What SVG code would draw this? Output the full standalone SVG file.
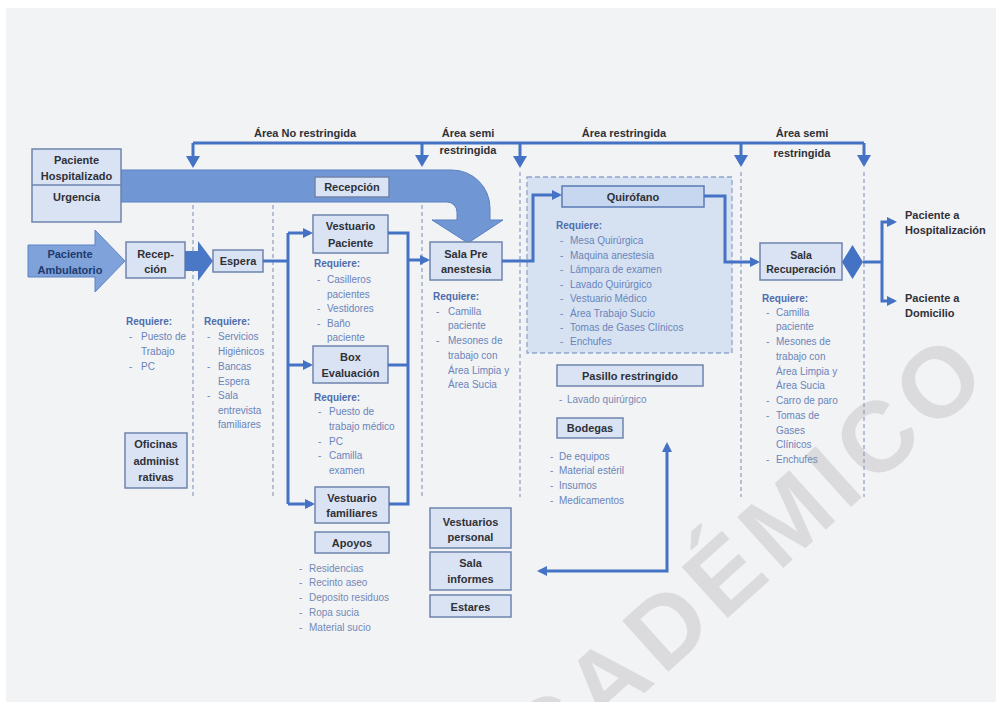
<svg xmlns="http://www.w3.org/2000/svg" width="996" height="702" viewBox="0 0 996 702">
  <defs>
    <style>
      text { font-family: "Liberation Sans", Arial, sans-serif; }
      .box { fill: #dae3f3; stroke: #6f84ad; stroke-width: 1.5; }
      .boxd { fill: #c6d7ef; stroke: #5b7bb5; stroke-width: 1.5; }
      .t { font-weight: bold; font-size: 11px; fill: #2f3137; text-anchor: middle; }
      .ts { font-weight: bold; font-size: 10.5px; fill: #2f3137; text-anchor: middle; }
      .hd { font-weight: bold; font-size: 11px; fill: #2f3137; text-anchor: middle; }
      .out { font-weight: bold; font-size: 11px; fill: #2f3137; }
      .req { font-weight: bold; font-size: 10px; fill: #4d6dad; }
      .li { font-size: 10px; fill: #6a84ba; }
      .lg { font-size: 10px; fill: #7489b6; }
      .conn { fill: none; stroke: #4472c4; stroke-width: 3; }
      .dash { fill: none; stroke: #8c9dc2; stroke-width: 1.2; stroke-dasharray: 4 3; }
      .wm { font-family: "Liberation Sans", Arial, sans-serif; font-weight: bold; font-size: 100px; fill: #9e9e9e; opacity: 0.27; letter-spacing: 8px; }
    </style>
    <marker id="ah" markerUnits="userSpaceOnUse" markerWidth="10" markerHeight="10" refX="7" refY="5" orient="auto-start-reverse">
      <path d="M0,0 L10,5 L0,10 Z" fill="#4472c4"/>
    </marker>
    <marker id="ahb" markerUnits="userSpaceOnUse" markerWidth="12" markerHeight="14" refX="9" refY="7" orient="auto-start-reverse">
      <path d="M0,0 L12,7 L0,14 Z" fill="#4472c4"/>
    </marker>
  </defs>

  <!-- page -->
  <rect x="0" y="0" width="996" height="702" fill="#ffffff"/>
  <rect x="6" y="8" width="990" height="694" fill="#f2f3f5"/>

  <!-- zone separators -->
  <g id="zones">
    <line class="dash" x1="193" y1="205" x2="193" y2="497"/>
    <line class="dash" x1="273" y1="205" x2="273" y2="497"/>
    <line class="dash" x1="422" y1="205" x2="422" y2="497"/>
    <line class="dash" x1="520" y1="172" x2="520" y2="497"/>
    <line class="dash" x1="741" y1="172" x2="741" y2="497"/>
    <line class="dash" x1="864" y1="172" x2="864" y2="497"/>
  </g>

  <!-- zone headings -->
  <g id="headings">
    <text class="hd" x="305" y="137">Área No restringida</text>
    <text class="hd" x="468" y="137">Área semi</text>
    <text class="hd" x="468" y="154">restringida</text>
    <text class="hd" x="624" y="137">Área restringida</text>
    <text class="hd" x="802" y="137">Área semi</text>
    <text class="hd" x="802" y="157">restringida</text>
  </g>

  <!-- quirofano block (dashed container) -->
  <g id="bloque-quirofano">
    <rect x="527" y="177" width="205" height="176" fill="#d6e2f2" stroke="#8ea6cc" stroke-width="1.3" stroke-dasharray="5 3"/>
  </g>

  <!-- wide intake band -->
  <g id="banda-ingreso">
    <path d="M121,170 H452 A38,38 0 0 1 490,208 V220 H503 L468,243 L432,220 H457 V212 A10,10 0 0 0 447,202 H121 Z" fill="#7097d3" stroke="#5a81c2" stroke-width="1"/>
  </g>

  <g id="paciente-hospitalizado">
    <rect class="box" x="32" y="149" width="89" height="73"/>
    <line x1="32" y1="185" x2="121" y2="185" stroke="#6f84ad" stroke-width="1.5"/>
    <text class="t" x="76.5" y="164">Paciente</text>
    <text class="t" x="76.5" y="180">Hospitalizado</text>
    <text class="t" x="76.5" y="201">Urgencia</text>
  </g>

  <g id="recepcion-central">
    <rect class="box" x="315" y="177" width="74" height="20"/>
    <text class="t" x="352" y="191">Recepción</text>
  </g>

  <g id="paciente-ambulatorio">
    <path d="M28,245 H95 V230 L125,261 L95,292 V277 H28 Z" fill="#7ea2d9" stroke="#5d84c6" stroke-width="1"/>
    <text class="t" x="70" y="258" style="fill:#1f3a6e">Paciente</text>
    <text class="t" x="70" y="274" style="fill:#1f3a6e">Ambulatorio</text>
  </g>

  <g id="recepcion">
    <rect class="box" x="126" y="242" width="59" height="36"/>
    <text class="t" x="155.5" y="258">Recep-</text>
    <text class="t" x="155.5" y="273">ción</text>
  </g>

  <g id="flecha-recepcion-espera">
    <path d="M185,251 H198 V241 L213,261 L198,281 V271 H185 Z" fill="#4a78c6"/>
  </g>

  <g id="espera">
    <rect class="box" x="213" y="250" width="50" height="22"/>
    <text class="t" x="238" y="265">Espera</text>
  </g>

  <g id="vestuario-paciente">
    <rect class="box" x="313" y="215" width="75" height="38"/>
    <text class="t" x="350.5" y="230">Vestuario</text>
    <text class="t" x="350.5" y="247">Paciente</text>
  </g>

  <g id="box-evaluacion">
    <rect class="box" x="313" y="346" width="75" height="37"/>
    <text class="t" x="350.5" y="361">Box</text>
    <text class="t" x="350.5" y="377">Evaluación</text>
  </g>

  <g id="vestuario-familiares">
    <rect class="box" x="315" y="487" width="74" height="36"/>
    <text class="t" x="352" y="502">Vestuario</text>
    <text class="t" x="352" y="517">familiares</text>
  </g>

  <g id="apoyos">
    <rect class="box" x="315" y="532" width="74" height="21"/>
    <text class="t" x="352" y="547">Apoyos</text>
  </g>

  <g id="oficinas">
    <rect class="box" x="125" y="433" width="62" height="55"/>
    <text class="t" x="156" y="448">Oficinas</text>
    <text class="t" x="156" y="465">administ</text>
    <text class="t" x="156" y="481">rativas</text>
  </g>

  <g id="sala-pre-anestesia">
    <rect class="box" x="430" y="242" width="72" height="38"/>
    <text class="t" x="466" y="258">Sala Pre</text>
    <text class="t" x="466" y="273">anestesia</text>
  </g>

  <g id="vestuarios-personal">
    <rect class="box" x="430" y="508" width="81" height="40"/>
    <text class="t" x="470.5" y="526">Vestuarios</text>
    <text class="t" x="470.5" y="541">personal</text>
  </g>

  <g id="sala-informes">
    <rect class="box" x="430" y="552" width="81" height="38"/>
    <text class="t" x="470.5" y="567">Sala</text>
    <text class="t" x="470.5" y="583">informes</text>
  </g>

  <g id="estares">
    <rect class="box" x="430" y="595" width="81" height="22"/>
    <text class="t" x="470.5" y="611">Estares</text>
  </g>

  <g id="quirofano">
    <rect class="boxd" x="562" y="186" width="142" height="21"/>
    <text class="t" x="633" y="201">Quirófano</text>
  </g>

  <g id="pasillo-restringido">
    <rect class="box" x="557" y="365" width="146" height="21"/>
    <text class="t" x="630" y="380">Pasillo restringido</text>
  </g>

  <g id="bodegas">
    <rect class="box" x="557" y="418" width="66" height="20"/>
    <text class="t" x="590" y="432">Bodegas</text>
  </g>

  <g id="sala-recuperacion">
    <rect class="box" x="760" y="243" width="82" height="37"/>
    <text class="ts" x="801" y="259">Sala</text>
    <text class="ts" x="801" y="273">Recuperación</text>
  </g>

  <g id="salida-hospitalizacion">
    <text class="out" x="905" y="219">Paciente a</text>
    <text class="out" x="905" y="234">Hospitalización</text>
  </g>
  <g id="salida-domicilio">
    <text class="out" x="905" y="302">Paciente a</text>
    <text class="out" x="905" y="317">Domicilio</text>
  </g>

  <!-- requirement lists -->
  <g id="lista-recepcion">
    <text class="req" x="126" y="325">Requiere:</text>
    <text class="li" x="129" y="340">-</text><text class="li" x="141" y="340">Puesto de</text>
    <text class="li" x="141" y="355">Trabajo</text>
    <text class="li" x="129" y="370">-</text><text class="li" x="141" y="370">PC</text>
  </g>

  <g id="lista-espera">
    <text class="req" x="204" y="325">Requiere:</text>
    <text class="li" x="207" y="340">-</text><text class="li" x="218" y="340">Servicios</text>
    <text class="li" x="218" y="355">Higiénicos</text>
    <text class="li" x="207" y="370">-</text><text class="li" x="218" y="370">Bancas</text>
    <text class="li" x="218" y="385">Espera</text>
    <text class="li" x="207" y="399">-</text><text class="li" x="218" y="399">Sala</text>
    <text class="li" x="218" y="414">entrevista</text>
    <text class="li" x="218" y="428">familiares</text>
  </g>

  <g id="lista-vestuario-paciente">
    <text class="req" x="314" y="267">Requiere:</text>
    <text class="li" x="317" y="283">-</text><text class="li" x="327" y="283">Casilleros</text>
    <text class="li" x="327" y="298">pacientes</text>
    <text class="li" x="317" y="312">-</text><text class="li" x="327" y="312">Vestidores</text>
    <text class="li" x="317" y="327">-</text><text class="li" x="327" y="327">Baño</text>
    <text class="li" x="327" y="341">paciente</text>
  </g>

  <g id="lista-box">
    <text class="req" x="314" y="401">Requiere:</text>
    <text class="li" x="318" y="415">-</text><text class="li" x="329" y="415">Puesto de</text>
    <text class="li" x="329" y="430">trabajo médico</text>
    <text class="li" x="318" y="445">-</text><text class="li" x="329" y="445">PC</text>
    <text class="li" x="318" y="459">-</text><text class="li" x="329" y="459">Camilla</text>
    <text class="li" x="329" y="474">examen</text>
  </g>

  <g id="lista-apoyos">
    <text class="lg" x="299" y="572">-</text><text class="lg" x="309" y="572">Residencias</text>
    <text class="lg" x="299" y="586">-</text><text class="lg" x="309" y="586">Recinto aseo</text>
    <text class="lg" x="299" y="601">-</text><text class="lg" x="309" y="601">Deposito residuos</text>
    <text class="lg" x="299" y="616">-</text><text class="lg" x="309" y="616">Ropa sucia</text>
    <text class="lg" x="299" y="631">-</text><text class="lg" x="309" y="631">Material sucio</text>
  </g>

  <g id="lista-sala-pre">
    <text class="req" x="433" y="300">Requiere:</text>
    <text class="li" x="436" y="315">-</text><text class="li" x="448" y="315">Camilla</text>
    <text class="li" x="448" y="329">paciente</text>
    <text class="li" x="436" y="344">-</text><text class="li" x="448" y="344">Mesones de</text>
    <text class="li" x="448" y="359">trabajo con</text>
    <text class="li" x="448" y="374">Área Limpia y</text>
    <text class="li" x="448" y="388">Área Sucia</text>
  </g>

  <g id="lista-quirofano">
    <text class="req" x="556" y="229">Requiere:</text>
    <text class="li" x="560" y="244">-</text><text class="li" x="570" y="244">Mesa Quirúrgica</text>
    <text class="li" x="560" y="259">-</text><text class="li" x="570" y="259">Maquina anestesia</text>
    <text class="li" x="560" y="273">-</text><text class="li" x="570" y="273">Lámpara de examen</text>
    <text class="li" x="560" y="288">-</text><text class="li" x="570" y="288">Lavado Quirúrgico</text>
    <text class="li" x="560" y="302">-</text><text class="li" x="570" y="302">Vestuario Médico</text>
    <text class="li" x="560" y="317">-</text><text class="li" x="570" y="317">Área Trabajo Sucio</text>
    <text class="li" x="560" y="331">-</text><text class="li" x="570" y="331">Tomas de Gases Clínicos</text>
    <text class="li" x="560" y="345">-</text><text class="li" x="570" y="345">Enchufes</text>
  </g>

  <g id="lista-pasillo">
    <text class="lg" x="559" y="403">-</text><text class="lg" x="567" y="403">Lavado quirúrgico</text>
  </g>

  <g id="lista-bodegas">
    <text class="li" x="550" y="460">-</text><text class="li" x="559" y="460">De equipos</text>
    <text class="li" x="550" y="474">-</text><text class="li" x="559" y="474">Material estéril</text>
    <text class="li" x="550" y="489">-</text><text class="li" x="559" y="489">Insumos</text>
    <text class="li" x="550" y="504">-</text><text class="li" x="559" y="504">Medicamentos</text>
  </g>

  <g id="lista-recuperacion">
    <text class="req" x="762" y="302">Requiere:</text>
    <text class="li" x="766" y="316">-</text><text class="li" x="776" y="316">Camilla</text>
    <text class="li" x="776" y="330">paciente</text>
    <text class="li" x="766" y="345">-</text><text class="li" x="776" y="345">Mesones de</text>
    <text class="li" x="776" y="360">trabajo con</text>
    <text class="li" x="776" y="375">Área Limpia y</text>
    <text class="li" x="776" y="389">Área Sucia</text>
    <text class="li" x="766" y="404">-</text><text class="li" x="776" y="404">Carro de paro</text>
    <text class="li" x="766" y="419">-</text><text class="li" x="776" y="419">Tomas de</text>
    <text class="li" x="776" y="434">Gases</text>
    <text class="li" x="776" y="448">Clínicos</text>
    <text class="li" x="766" y="463">-</text><text class="li" x="776" y="463">Enchufes</text>
  </g>

  <!-- connectors -->
  <g id="connectors">
    <path class="conn" d="M193,143 H864"/>
    <path class="conn" d="M193,143 V165" marker-end="url(#ahb)"/>
    <path class="conn" d="M422,143 V164" marker-end="url(#ahb)"/>
    <path class="conn" d="M520,143 V165" marker-end="url(#ahb)"/>
    <path class="conn" d="M741,143 V164" marker-end="url(#ahb)"/>
    <path class="conn" d="M864,143 V164" marker-end="url(#ahb)"/>

    <path class="conn" d="M263,261 H288"/>
    <path class="conn" d="M288,233 V504"/>
    <path class="conn" d="M288,233 H310" marker-end="url(#ah)"/>
    <path class="conn" d="M288,365 H310" marker-end="url(#ah)"/>
    <path class="conn" d="M288,504 H312" marker-end="url(#ah)"/>
    <path class="conn" d="M388,233 H408 V504 H389"/>
    <path class="conn" d="M388,365 H408"/>
    <path class="conn" d="M408,260 H427" marker-end="url(#ah)"/>

    <path class="conn" d="M502,261 H533 V195 H559" marker-end="url(#ah)"/>
    <path class="conn" d="M704,196 H725 V262 H757" marker-end="url(#ah)"/>

    <polygon points="842,262 852.5,245 863,262 852.5,279" fill="#4472c4"/>
    <path class="conn" d="M863,262 H882"/>
    <path class="conn" d="M894,222 H882 V301 H894" marker-start="url(#ah)" marker-end="url(#ah)"/>

    <path class="conn" d="M540,571 H667 V445" marker-start="url(#ah)" marker-end="url(#ah)"/>
  </g>

  <!-- watermark -->
  <text class="wm" x="770" y="580" text-anchor="middle" transform="rotate(-42 770 580)">CADÉMICO</text>
</svg>
